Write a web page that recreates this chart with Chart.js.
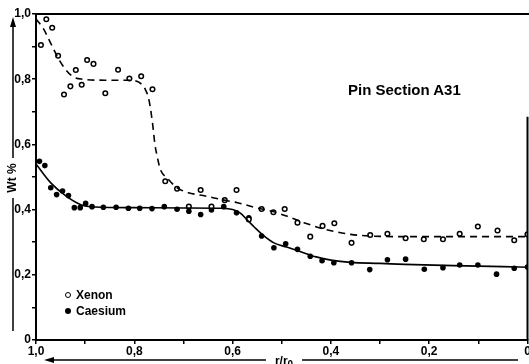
<!DOCTYPE html>
<html lang="en">
<head>
  <meta charset="UTF-8">
  <title>Pin Section A31</title>
  <script src="https://cdn.jsdelivr.net/npm/chart.js"></script>
  <style>
    html, body { margin: 0; padding: 0; background: #fff; }
    #wrap { position: relative; width: 529px; height: 364px; overflow: hidden; }
    .txt { position: absolute; font-family: 'Liberation Sans', Arial, sans-serif; font-weight: bold; color: #000; white-space: nowrap; }
    .mark { position: absolute; border-radius: 50%; box-sizing: border-box; }
  </style>
</head>
<body>
  <div id="wrap">
    <canvas id="pinChart" width="533" height="364"></canvas>
    <div class="txt" style="left:348px; top:82px; font-size:15px; line-height:15px;">Pin Section A31</div>
    <div class="mark" style="left:65px; top:292px; width:6px; height:6px; border:1.5px solid #000;"></div>
    <div class="txt" style="left:76px; top:289px; font-size:12px; line-height:12px;">Xenon</div>
    <div class="mark" style="left:65px; top:308px; width:6px; height:6px; background:#000;"></div>
    <div class="txt" style="left:76px; top:305px; font-size:12px; line-height:12px;">Caesium</div>
    <div class="txt" style="left:-8px; top:171px; width:40px; text-align:center; font-size:12px; line-height:14px; transform:rotate(-90deg);">Wt %</div>
    <div class="txt" style="left:264px; top:354px; width:40px; text-align:center; font-size:12px; line-height:14px;">r/r<sub style="font-size:10px;">0</sub></div>
  </div>
  <script>
    const xenonR  = [0.990, 0.979, 0.967, 0.955, 0.943, 0.930, 0.919, 0.907, 0.896, 0.883, 0.859, 0.833, 0.810, 0.786, 0.763,
                     0.737, 0.713, 0.689, 0.665, 0.643, 0.616, 0.592, 0.567, 0.541, 0.517, 0.494, 0.468, 0.442, 0.417, 0.393,
                     0.358, 0.320, 0.285, 0.248, 0.211, 0.172, 0.138, 0.101, 0.061, 0.027, 0.000];
    const xenonWt = [0.905, 0.984, 0.958, 0.872, 0.753, 0.778, 0.828, 0.783, 0.859, 0.847, 0.757, 0.829, 0.802, 0.809, 0.769,
                     0.487, 0.464, 0.409, 0.460, 0.409, 0.429, 0.460, 0.370, 0.402, 0.392, 0.402, 0.360, 0.317, 0.350, 0.358,
                     0.298, 0.322, 0.326, 0.312, 0.309, 0.309, 0.326, 0.348, 0.336, 0.306, 0.324];

    const caesiumR  = [0.993, 0.982, 0.970, 0.958, 0.946, 0.934, 0.922, 0.910, 0.899, 0.886, 0.863, 0.837, 0.812, 0.789, 0.764,
                       0.739, 0.713, 0.689, 0.665, 0.643, 0.618, 0.592, 0.567, 0.541, 0.516, 0.492, 0.468, 0.442, 0.418, 0.394,
                       0.358, 0.321, 0.285, 0.248, 0.210, 0.172, 0.138, 0.101, 0.063, 0.027, 0.000];
    const caesiumWt = [0.548, 0.535, 0.467, 0.446, 0.457, 0.443, 0.406, 0.406, 0.419, 0.409, 0.407, 0.407, 0.404, 0.404, 0.403,
                       0.409, 0.401, 0.395, 0.385, 0.399, 0.409, 0.390, 0.375, 0.319, 0.283, 0.295, 0.278, 0.257, 0.243, 0.237,
                       0.237, 0.216, 0.246, 0.248, 0.217, 0.222, 0.230, 0.230, 0.202, 0.220, 0.224];

    // hand-drawn fit curves
    const xenonFitR  = [1.000, 0.985, 0.970, 0.955, 0.940, 0.925, 0.905, 0.860, 0.810, 0.790, 0.778, 0.770, 0.763, 0.758, 0.753,
                        0.747, 0.733, 0.713, 0.690, 0.660, 0.620, 0.590, 0.550, 0.520, 0.490, 0.455, 0.420, 0.390, 0.360, 0.320,
                        0.250, 0.150, 0.050, 0.000];
    const xenonFitWt = [0.985, 0.955, 0.910, 0.865, 0.830, 0.808, 0.800, 0.797, 0.797, 0.790, 0.770, 0.735, 0.666, 0.600, 0.560,
                        0.523, 0.497, 0.467, 0.452, 0.443, 0.430, 0.421, 0.405, 0.395, 0.380, 0.360, 0.343, 0.332, 0.324, 0.319,
                        0.317, 0.317, 0.317, 0.317];

    const caesiumFitR  = [1.000, 0.970, 0.940, 0.910, 0.880, 0.800, 0.700, 0.620, 0.600, 0.585, 0.570, 0.555, 0.540, 0.516,
                          0.490, 0.460, 0.430, 0.400, 0.360, 0.300, 0.250, 0.150, 0.050, 0.000];
    const caesiumFitWt = [0.540, 0.482, 0.443, 0.416, 0.408, 0.406, 0.405, 0.404, 0.400, 0.390, 0.368, 0.345, 0.324, 0.298,
                          0.285, 0.270, 0.255, 0.245, 0.238, 0.235, 0.232, 0.228, 0.225, 0.223];

    const toPoints = (xs, ys) => xs.map((x, i) => ({ x: x, y: ys[i] }));

    const fontTicks = { family: "'Liberation Sans', Arial, sans-serif", size: 12, weight: 'bold' };
    const comma = v => {
      const k = Math.round(v * 10);
      if (k % 2 !== 0) return '';
      return k === 0 ? '0' : (k / 10).toFixed(1).replace('.', ',');
    };

    // frame lines and the two axis arrows
    const decor = {
      id: 'decor',
      afterDraw(chart) {
        const ctx = chart.ctx;
        const a = chart.chartArea;
        const y = chart.scales.y;
        ctx.save();
        ctx.strokeStyle = '#000';
        ctx.fillStyle = '#000';
        ctx.lineWidth = 2;
        ctx.beginPath();
        ctx.moveTo(a.left, a.top);
        ctx.lineTo(529, a.top);
        ctx.moveTo(a.right, y.getPixelForValue(0.685));
        ctx.lineTo(a.right, a.bottom);
        ctx.stroke();

        ctx.lineWidth = 1.5;
        ctx.beginPath();
        ctx.moveTo(13, 331); ctx.lineTo(13, 198);
        ctx.moveTo(13, 158); ctx.lineTo(13, 24);
        ctx.moveTo(518, 360); ctx.lineTo(302, 360);
        ctx.moveTo(266, 360); ctx.lineTo(50, 360);
        ctx.stroke();
        ctx.beginPath();
        ctx.moveTo(13, 17); ctx.lineTo(10, 27); ctx.lineTo(16, 27); ctx.closePath();
        ctx.moveTo(44, 360); ctx.lineTo(54, 357); ctx.lineTo(54, 363); ctx.closePath();
        ctx.fill();
        ctx.restore();
      }
    };

    const ctx = document.getElementById('pinChart').getContext('2d');
    new Chart(ctx, {
      type: 'scatter',
      data: {
        datasets: [
          {
            label: 'Xenon fit',
            data: toPoints(xenonFitR, xenonFitWt),
            showLine: true,
            borderColor: '#000',
            borderWidth: 1.6,
            borderDash: [7, 5],
            cubicInterpolationMode: 'monotone',
            pointRadius: 0
          },
          {
            label: 'Caesium fit',
            data: toPoints(caesiumFitR, caesiumFitWt),
            showLine: true,
            borderColor: '#000',
            borderWidth: 1.6,
            cubicInterpolationMode: 'monotone',
            pointRadius: 0
          },
          {
            label: 'Xenon',
            data: toPoints(xenonR, xenonWt),
            pointStyle: 'circle',
            pointRadius: 2.3,
            pointBorderWidth: 1.5,
            pointBorderColor: '#000',
            pointBackgroundColor: '#fff'
          },
          {
            label: 'Caesium',
            data: toPoints(caesiumR, caesiumWt),
            pointStyle: 'circle',
            pointRadius: 2.8,
            pointBorderWidth: 0,
            pointBackgroundColor: '#000'
          }
        ]
      },
      options: {
        responsive: false,
        devicePixelRatio: 1,
        animation: false,
        layout: { padding: { top: 14, right: 0, left: 0, bottom: 0 } },
        plugins: { legend: { display: false }, tooltip: { enabled: false } },
        scales: {
          x: {
            type: 'linear',
            reverse: true,
            min: 0,
            max: 1,
            afterFit: s => { s.height = 24; },
            grid: { display: true, drawOnChartArea: false, drawTicks: true, tickLength: 4, color: '#000', lineWidth: 1.5 },
            border: { display: true, color: '#000', width: 2 },
            ticks: { stepSize: 0.1, autoSkip: false, maxRotation: 0, padding: 0, color: '#000', font: fontTicks, callback: comma }
          },
          y: {
            min: 0,
            max: 1,
            afterFit: s => { s.width = 36; },
            grid: { display: true, drawOnChartArea: false, drawTicks: true, tickLength: 4, color: '#000', lineWidth: 1.5 },
            border: { display: true, color: '#000', width: 2 },
            ticks: { stepSize: 0.1, autoSkip: false, padding: 1, color: '#000', font: fontTicks, callback: comma }
          }
        }
      },
      plugins: [decor]
    });
  </script>
</body>
</html>
